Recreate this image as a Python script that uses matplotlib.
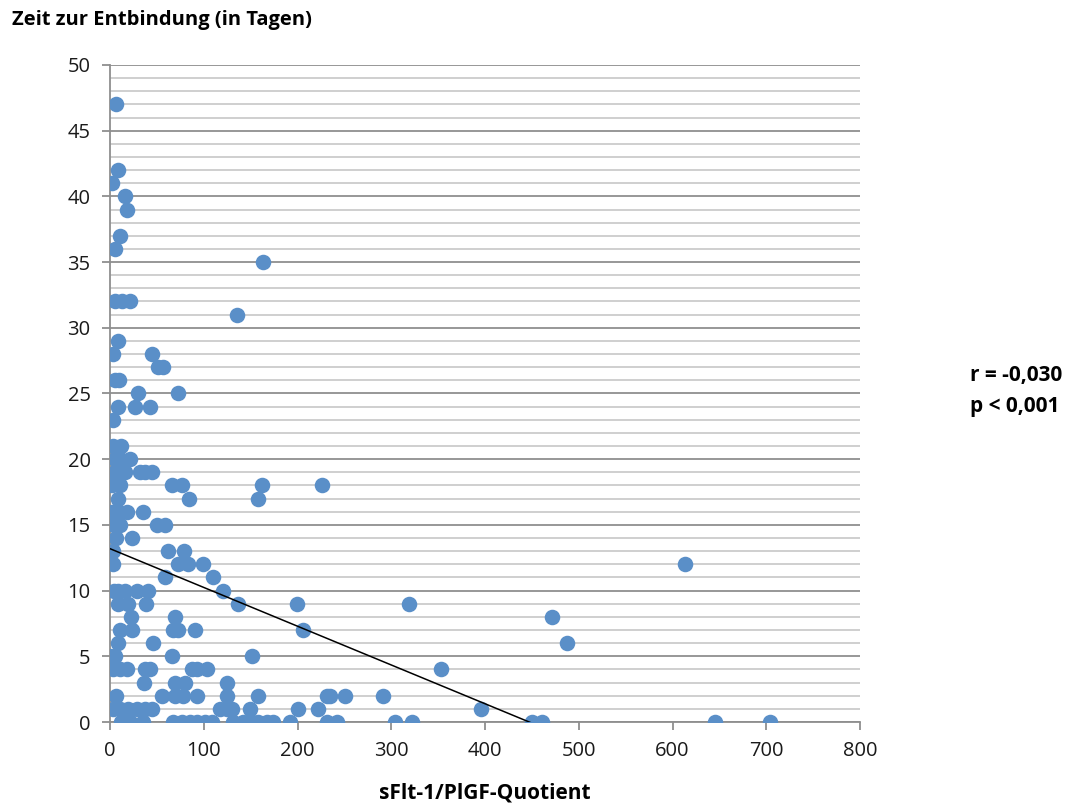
import matplotlib.pyplot as plt
from matplotlib.ticker import MultipleLocator

OUTPUT_FILE = "out.png"

# sFlt-1/PlGF quotient and days until delivery, one entry per patient
quotient = [
    12, 21, 35, 67, 77, 85, 93, 101, 109, 131, 142, 151, 158, 167, 174, 192,
    231, 242, 304, 322, 450, 461, 645, 704,
    3, 11, 19, 29, 37, 45, 117, 125, 130, 149, 201, 222, 396,
    6, 55, 69, 78, 93, 125, 158, 231, 235, 251, 291,
    36, 69, 80, 125,
    3, 11, 18, 37, 43, 87, 93, 103, 353,
    0, 5, 66, 151,
    8, 46, 487,
    11, 23, 67, 73, 91, 206,
    22, 69, 471,
    9, 19, 38, 137, 199, 319,
    4, 9, 16, 29, 40, 121,
    59, 110,
    3, 72, 83, 99, 613,
    3, 62, 79,
    6, 23,
    4, 11, 50, 59,
    2, 8, 18, 35,
    8, 84, 158,
    2, 11, 66, 77, 162, 226,
    5, 16, 32, 37, 45,
    5, 11, 21,
    3, 12,
    3,
    9, 27, 43,
    30, 73,
    5, 10,
    51, 57,
    3, 45,
    8,
    135,
    5, 13, 21,
    163,
    5,
    11,
    18,
    16,
    2,
    8,
    6,
]
days = (
    [0] * 24 + [1] * 13 + [2] * 11 + [3] * 4 + [4] * 9 + [5] * 4 + [6] * 3
    + [7] * 6 + [8] * 3 + [9] * 6 + [10] * 6 + [11] * 2 + [12] * 5
    + [13] * 3 + [14] * 2 + [15] * 4 + [16] * 4 + [17] * 3 + [18] * 6
    + [19] * 5 + [20] * 3 + [21] * 2 + [23] + [24] * 3 + [25] * 2
    + [26] * 2 + [27] * 2 + [28] * 2 + [29] + [31] + [32] * 3 + [35]
    + [36] + [37] + [39] + [40] + [41] + [42] + [47]
)

# linear trend line
trend_intercept = 13.19
trend_slope = -0.0295

plt.rcParams["font.family"] = ["Open Sans", "DejaVu Sans"]

fig = plt.figure(figsize=(10.66, 8.05), dpi=100)
ax = fig.add_axes([0.1032, 0.1031, 0.7036, 0.8162])

ax.set_xlim(0, 800)
ax.set_ylim(0, 50)

ax.xaxis.set_major_locator(MultipleLocator(100))
ax.yaxis.set_major_locator(MultipleLocator(5))
ax.yaxis.set_minor_locator(MultipleLocator(1))

ax.grid(axis="y", which="minor", color="#cbcbcb", linewidth=1.3, zorder=0)
ax.grid(axis="y", which="major", color="#8f8f8f", linewidth=1.3, zorder=0)
ax.set_axisbelow(True)

ax.scatter(quotient, days, s=125, color="#5a8fc8", linewidths=0, zorder=3)

x0, x1 = min(quotient), max(quotient)
ax.plot([x0, x1], [trend_intercept + trend_slope * x0,
                   trend_intercept + trend_slope * x1],
        color="black", linewidth=1.1, zorder=4)

for side in ("top", "right"):
    ax.spines[side].set_visible(False)
for side in ("left", "bottom"):
    ax.spines[side].set_color("#8f8f8f")
    ax.spines[side].set_linewidth(1.3)
    ax.spines[side].set_zorder(2)

ax.tick_params(axis="both", which="major", direction="out", length=6,
               width=1.3, color="#8f8f8f", labelsize=14.5, labelcolor="#1a1a1a")
ax.tick_params(axis="y", which="minor", length=0)
ax.tick_params(axis="y", which="major", pad=8)
ax.tick_params(axis="x", which="major", pad=8)

fig.text(0.011, 0.975, "Zeit zur Entbindung (in Tagen)", fontsize=14.5,
         fontweight="bold", ha="left", va="center")
fig.text(0.455, 0.015, "sFlt-1/PlGF-Quotient", fontsize=15,
         fontweight="bold", ha="center", va="center")
fig.text(0.91, 0.533, "r = -0,030", fontsize=15, fontweight="bold",
         ha="left", va="center")
fig.text(0.91, 0.495, "p < 0,001", fontsize=15, fontweight="bold",
         ha="left", va="center")

plt.savefig(OUTPUT_FILE)
